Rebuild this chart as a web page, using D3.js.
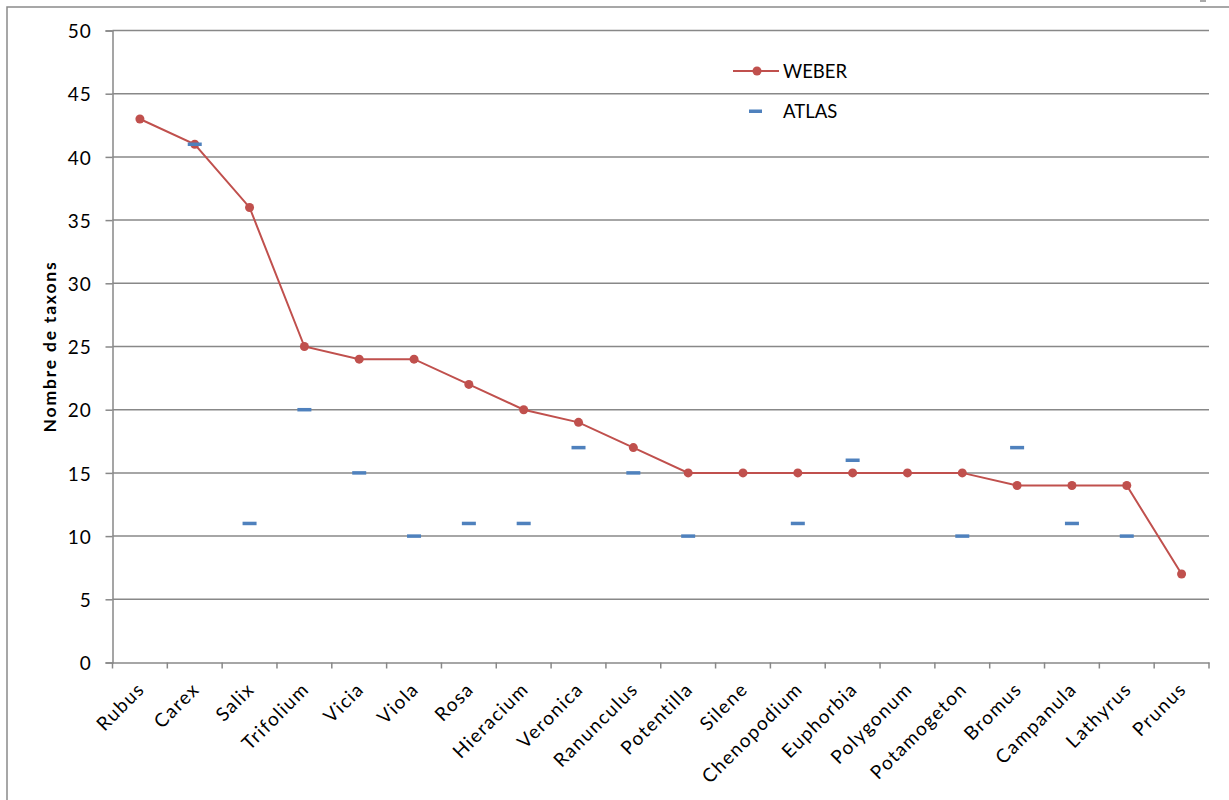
<!DOCTYPE html>
<html><head><meta charset="utf-8">
<script src="https://cdn.jsdelivr.net/npm/d3@7"></script>
<style>body{margin:0;background:#fff;} svg{display:block;} text{font-family:Lato,"Open Sans",sans-serif;}</style>
</head><body>
<svg id="chart" width="1229" height="800"></svg>
<script>
const categories = ["Rubus","Carex","Salix","Trifolium","Vicia","Viola","Rosa","Hieracium","Veronica","Ranunculus","Potentilla","Silene","Chenopodium","Euphorbia","Polygonum","Potamogeton","Bromus","Campanula","Lathyrus","Prunus"];
const weber = [43,41,36,25,24,24,22,20,19,17,15,15,15,15,15,15,14,14,14,7];
const atlas = [null,41,11,20,15,10,11,11,17,15,10,null,11,16,null,10,17,11,10,null];
const yTicks = [0,5,10,15,20,25,30,35,40,45,50];
const seriesNames = ["WEBER","ATLAS"];

(function(){
const svg = d3.select("#chart");
const pL = 112.5, pR = 1209, pT = 30.5, pB = 662.5;
const red = "#C0504D", blue = "#4F81BD", grid = "#888888";
const fs = 18.5;

// outer border
svg.append("rect").attr("x",7).attr("y",7).attr("width",1240).attr("height",820)
  .attr("fill","none").attr("stroke","#8a8a8a").attr("stroke-width",1.5);
svg.append("rect").attr("x",1200).attr("y",0).attr("width",6).attr("height",2).attr("fill","#aaaaaa");

const x = d3.scaleBand().domain(categories).range([pL,pR]).padding(0);
const y = d3.scaleLinear().domain([0,50]).range([pB,pT]);

// gridlines
svg.append("g").selectAll("line").data(yTicks.filter(d=>d>0)).join("line")
  .attr("x1",pL).attr("x2",pR).attr("y1",d=>y(d)).attr("y2",d=>y(d))
  .attr("stroke",grid).attr("stroke-width",1.5);

// y axis
const yAxis = svg.append("g").attr("transform",`translate(${pL},0)`)
  .call(d3.axisLeft(y).tickValues(yTicks).tickSize(7).tickPadding(14));
yAxis.select(".domain").attr("stroke",grid).attr("stroke-width",1.5);
yAxis.selectAll(".tick line").attr("stroke",grid).attr("stroke-width",1.5);
yAxis.selectAll(".tick text").attr("font-size",19).attr("fill","#000").attr("font-family","Lato")
  .attr("letter-spacing","0.8px").attr("dy","0.38em");

// x axis
const xAxis = svg.append("g").attr("transform",`translate(0,${pB})`)
  .call(d3.axisBottom(x).tickSize(0).tickFormat(""));
xAxis.select(".domain").attr("stroke",grid).attr("stroke-width",1.5);
xAxis.selectAll(".tick").remove();
const edges = categories.map(c=>x(c)).concat([pR]);
svg.append("g").selectAll("line").data(edges).join("line")
  .attr("x1",d=>d).attr("x2",d=>d).attr("y1",pB).attr("y2",pB+6)
  .attr("stroke",grid).attr("stroke-width",1.5);
svg.append("g").selectAll("text").data(categories).join("text")
  .attr("transform",d=>`translate(${x(d)+x.bandwidth()/2+6},${pB+28}) rotate(-45)`)
  .attr("text-anchor","end").attr("font-size",19).attr("letter-spacing","1.4px")
  .attr("fill","#000").text(d=>d);

// y title
svg.append("text").attr("transform",`translate(55.5,${(pT+pB)/2}) rotate(-90)`)
  .attr("text-anchor","middle").attr("font-size",17.5).attr("font-weight","bold")
  .attr("letter-spacing","1.8px").text("Nombre de taxons");

const cx = i => x(categories[i]) + x.bandwidth()/2;
// WEBER line
svg.append("path").datum(weber)
  .attr("d", d3.line().x((d,i)=>cx(i)).y(d=>y(d)))
  .attr("fill","none").attr("stroke",red).attr("stroke-width",2);
svg.append("g").selectAll("circle").data(weber).join("circle")
  .attr("cx",(d,i)=>cx(i)).attr("cy",d=>y(d)).attr("r",4.5).attr("fill",red);

// ATLAS dashes
svg.append("g").selectAll("rect").data(atlas.map((v,i)=>({v,i})).filter(d=>d.v!==null)).join("rect")
  .attr("x",d=>cx(d.i)-7).attr("y",d=>y(d.v)-1.75).attr("width",14).attr("height",3.5).attr("fill",blue);

// legend
const lg = svg.append("g");
lg.append("line").attr("x1",733).attr("x2",779).attr("y1",71).attr("y2",71).attr("stroke",red).attr("stroke-width",2);
lg.append("circle").attr("cx",757).attr("cy",71).attr("r",4.5).attr("fill",red);
lg.append("text").attr("x",783).attr("y",77.5).attr("font-size",fs).text(seriesNames[0]);
lg.append("rect").attr("x",749).attr("y",109.5).attr("width",13).attr("height",3.5).attr("fill",blue);
lg.append("text").attr("x",783).attr("y",118).attr("font-size",fs).text(seriesNames[1]);
})();
</script>
</body></html>
